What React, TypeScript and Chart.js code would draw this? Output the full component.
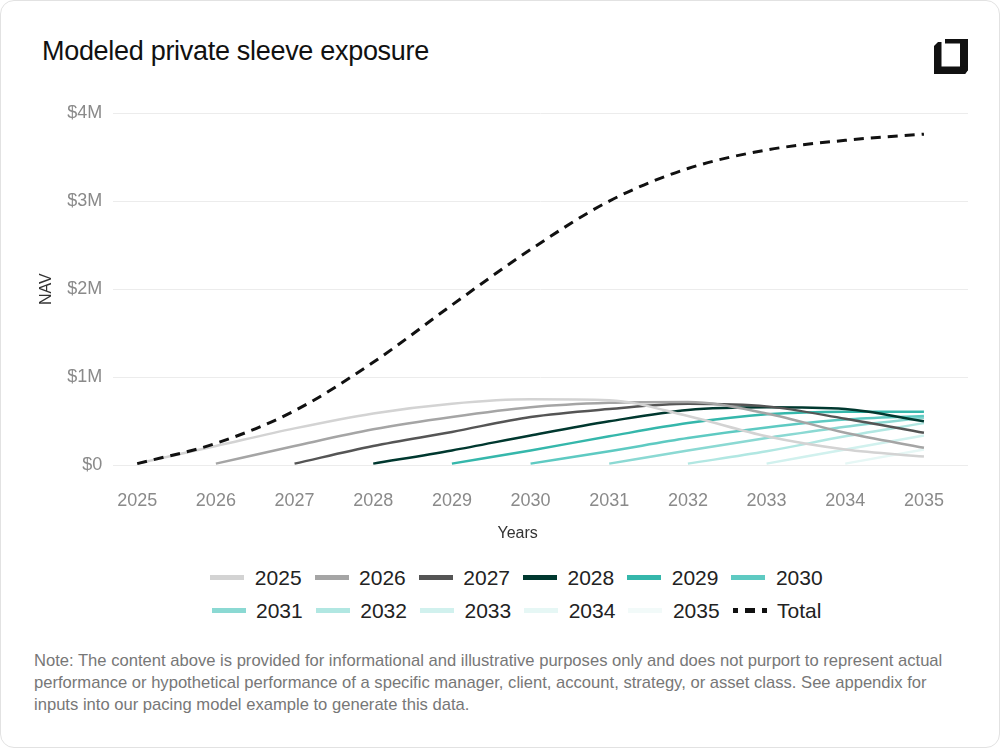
import React, { useEffect, useRef } from "react";
import { Chart, registerables } from "chart.js";

Chart.register(...registerables);

// ---------- data ----------
const years = [2025, 2026, 2027, 2028, 2029, 2030, 2031, 2032, 2033, 2034, 2035];
const vintageNames = ["2025", "2026", "2027", "2028", "2029", "2030", "2031", "2032", "2033", "2034", "2035"];
const totalName = "Total";

// NAV in $ millions, by year
const nav2025 = [0.02, 0.22, 0.42, 0.59, 0.7, 0.75, 0.74, 0.56, 0.33, 0.18, 0.1];
const nav2026 = [null, 0.02, 0.22, 0.41, 0.55, 0.66, 0.71, 0.72, 0.59, 0.37, 0.2];
const nav2027 = [null, null, 0.02, 0.22, 0.38, 0.55, 0.64, 0.7, 0.67, 0.53, 0.37];
const nav2028 = [null, null, null, 0.02, 0.17, 0.34, 0.5, 0.63, 0.66, 0.64, 0.5];
const nav2029 = [null, null, null, null, 0.02, 0.17, 0.33, 0.48, 0.58, 0.61, 0.61];
const nav2030 = [null, null, null, null, null, 0.02, 0.16, 0.31, 0.43, 0.52, 0.56];
const nav2031 = [null, null, null, null, null, null, 0.02, 0.17, 0.31, 0.44, 0.54];
const nav2032 = [null, null, null, null, null, null, null, 0.02, 0.16, 0.33, 0.48];
const nav2033 = [null, null, null, null, null, null, null, null, 0.02, 0.18, 0.34];
const nav2034 = [null, null, null, null, null, null, null, null, null, 0.02, 0.18];
const nav2035 = [null, null, null, null, null, null, null, null, null, null, 0.02];
const navTotal = [0.02, 0.25, 0.62, 1.17, 1.82, 2.45, 3.0, 3.37, 3.58, 3.69, 3.76];

const vintageSeries = [nav2025, nav2026, nav2027, nav2028, nav2029, nav2030, nav2031, nav2032, nav2033, nav2034, nav2035];
const yTickValues = [0, 1, 2, 3, 4];

// ---------- styles ----------
const vintageColors = [
  "#d3d3d3",
  "#a5a5a5",
  "#555555",
  "#00382f",
  "#35b7ab",
  "#5ecac2",
  "#8bd9d3",
  "#b1e7e2",
  "#d1f1ee",
  "#e6f7f5",
  "#f2faf9",
];
const totalColor = "#111111";
const FONT = "'Liberation Sans', Arial, Helvetica, sans-serif";

const xTitlePlugin = {
  id: "xTitle",
  afterDraw(chart: any) {
    const { ctx, chartArea } = chart;
    ctx.save();
    ctx.font = `16px ${FONT}`;
    ctx.fillStyle = "#333333";
    ctx.textAlign = "center";
    ctx.textBaseline = "middle";
    ctx.fillText("Years", (chartArea.left + chartArea.right) / 2 - 23, chartArea.bottom + 68);
    ctx.restore();
  },
};

function toPoints(values: (number | null)[]) {
  return years
    .map((x, i) => ({ x, y: values[i] }))
    .filter((p) => p.y !== null && p.y !== undefined) as { x: number; y: number }[];
}

function ChartCanvas() {
  const ref = useRef<HTMLCanvasElement | null>(null);
  useEffect(() => {
    if (!ref.current) return;
    const datasets: any[] = vintageSeries.map((vals, i) => ({
      label: vintageNames[i],
      data: toPoints(vals),
      borderColor: vintageColors[i],
      backgroundColor: vintageColors[i],
      borderWidth: 2.5,
      pointRadius: 0,
      pointHoverRadius: 0,
      fill: false,
      cubicInterpolationMode: "monotone",
    }));
    datasets.push({
      label: totalName,
      data: toPoints(navTotal),
      borderColor: totalColor,
      backgroundColor: totalColor,
      borderWidth: 3,
      borderDash: [10, 7],
      pointRadius: 0,
      pointHoverRadius: 0,
      fill: false,
      cubicInterpolationMode: "monotone",
      order: -1,
    });
    const chart = new Chart(ref.current, {
      type: "line",
      data: { datasets },
      plugins: [xTitlePlugin],
      options: {
        animation: false,
        responsive: false,
        layout: { padding: { left: 20, right: 33, top: 112, bottom: 24 } },
        font: { family: FONT },
        plugins: {
          legend: { display: false },
          tooltip: { enabled: false },
        },
        scales: {
          x: {
            type: "linear",
            min: 2024.695,
            max: 2035.56,
            grid: { display: false, drawTicks: false },
            border: { display: false },
            afterBuildTicks: (scale: any) => {
              scale.ticks = years.map((v) => ({ value: v }));
            },
            ticks: {
              padding: 25,
              color: "#8a8a8a",
              font: { family: FONT, size: 18 },
              callback: (v: any) => String(v),
            },
          },
          y: {
            type: "linear",
            min: 0,
            max: 4,
            afterBuildTicks: (scale: any) => {
              scale.ticks = yTickValues.map((v) => ({ value: v }));
            },
            grid: { color: "#ececec", lineWidth: 1, drawTicks: false },
            border: { display: false },
            title: {
              display: true,
              text: "NAV",
              color: "#333333",
              font: { family: FONT, size: 16 },
              padding: { top: 16, bottom: 0 },
            },
            ticks: {
              padding: 11,
              color: "#8a8a8a",
              font: { family: FONT, size: 18 },
              callback: (v: any) => (v === 0 ? "$0" : `$${v}M`),
            },
          },
        },
      } as any,
    });
    return () => chart.destroy();
  }, []);
  return (
    <canvas
      ref={ref}
      width={1000}
      height={560}
      style={{ position: "absolute", left: 0, top: 0, width: 1000, height: 560 }}
    />
  );
}

function Legend() {
  const items = [
    ...vintageNames.map((n, i) => ({ name: n, color: vintageColors[i], dashed: false })),
    { name: totalName, color: totalColor, dashed: true },
  ];
  return (
    <div
      style={{
        position: "absolute",
        left: 195,
        top: 560,
        width: 641,
        display: "flex",
        flexWrap: "wrap",
        justifyContent: "center",
        columnGap: 13,
        fontFamily: FONT,
        fontSize: 21,
        color: "#222222",
      }}
    >
      {items.map((it) => (
        <div key={it.name} style={{ display: "flex", alignItems: "center", height: 33, lineHeight: "33px" }}>
          <span
            style={{
              display: "inline-block",
              width: 34,
              height: 5,
              marginRight: 10.5,
              background: it.dashed
                ? `repeating-linear-gradient(to right, ${it.color} 0px, ${it.color} 10px, transparent 10px, transparent 17px)`
                : it.color,
              backgroundPosition: it.dashed ? "-5px 0" : undefined,
            }}
          />
          <span>{it.name}</span>
        </div>
      ))}
    </div>
  );
}

function Logo() {
  return (
    <svg width={34} height={35} viewBox="0 0 34 35" style={{ position: "absolute", left: 933, top: 38 }}>
      <path d="M11 0 H34 V31 L31 35 H26 V4.5 H11 Z" fill="#111" />
      <path d="M0 7 L4 3 H7.5 V27.5 H34 V31 L31 35 H0 Z" fill="#111" />
    </svg>
  );
}

export default function App() {
  useEffect(() => {
    document.body.style.margin = "0";
    document.body.style.overflow = "hidden";
  }, []);
  return (
    <div
      style={{
        position: "absolute",
        left: 0,
        top: 0,
        width: 1000,
        height: 748,
        boxSizing: "border-box",
        border: "1px solid #e2e2e2",
        borderRadius: 14,
        background: "#ffffff",
        overflow: "hidden",
        fontFamily: FONT,
      }}
    >
      <div
        style={{
          position: "absolute",
          left: 41,
          top: 37,
          fontSize: 27,
          lineHeight: "27px",
          letterSpacing: "-0.3px",
          color: "#111111",
          whiteSpace: "nowrap",
        }}
      >
        Modeled private sleeve exposure
      </div>
      <Logo />
      <ChartCanvas />
      <Legend />
      <div
        style={{
          position: "absolute",
          left: 33,
          top: 649,
          width: 935,
          fontSize: 16.6,
          lineHeight: "22px",
          color: "#777777",
        }}
      >
        Note: The content above is provided for informational and illustrative purposes only and does not purport to
        represent actual performance or hypothetical performance of a specific manager, client, account, strategy, or
        asset class. See appendix for inputs into our pacing model example to generate this data.
      </div>
    </div>
  );
}
